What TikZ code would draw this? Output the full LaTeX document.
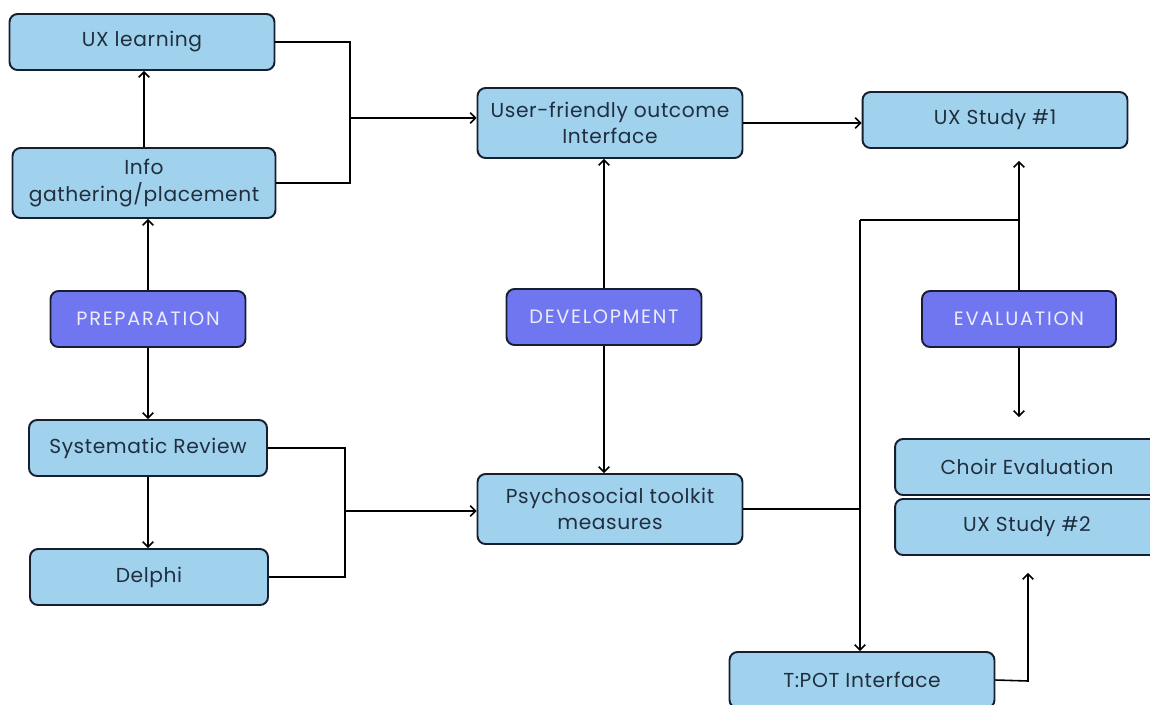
\documentclass[tikz,border=0pt]{standalone}
\usepackage{fontspec}
\setmainfont{Poppins}[LetterSpace=3]
\newfontfamily\phasefont{Poppins}[LetterSpace=9]
\usetikzlibrary{arrows.meta, positioning}
\definecolor{boxblue}{RGB}{160,210,238}
\definecolor{phaseviolet}{RGB}{112,118,240}
\definecolor{edgenavy}{RGB}{22,30,48}
\definecolor{textslate}{RGB}{32,46,62}
\definecolor{phasetext}{RGB}{236,236,252}

\begin{document}
\begin{tikzpicture}[x=0.02cm, y=-0.02cm,
    stage/.style={draw=edgenavy, line width=1.1pt, fill=boxblue, rounded corners=0.16cm,
        text=textslate, font=\fontsize{11.5}{15}\selectfont, align=center,
        minimum width=5.3cm, minimum height=1.12cm, inner sep=2pt},
    tall/.style={minimum height=1.4cm},
    phase/.style={draw=edgenavy, line width=1.1pt, fill=phaseviolet, rounded corners=0.16cm,
        text=phasetext, font=\phasefont\fontsize{11}{13}\selectfont,
        minimum width=3.9cm, minimum height=1.12cm, inner sep=2pt},
    link/.style={draw=black, line width=0.9pt},
    arrow/.style={link, -{Straight Barb[length=3pt,width=6pt]}}]

    \useasboundingbox (0,0) rectangle (1150,704);

    % preparation column
    \node[stage] (uxl) at (142,42) {UX learning};
    \node[stage, tall, minimum width=5.26cm] (info) at (144,183) {Info\\gathering/placement};
    \node[phase] (prep) at (148,319) {PREPARATION};
    \node[stage, minimum width=4.76cm] (sysr) at (148,448) {Systematic Review};
    \node[stage, minimum width=4.76cm] (delphi) at (149,577) {Delphi};

    % development column
    \node[stage, tall] (ufi) at (610,123) {User-friendly outcome\\Interface};
    \node[phase] (dev) at (604,317) {DEVELOPMENT};
    \node[stage, tall] (psy) at (610,509) {Psychosocial toolkit\\measures};

    % evaluation column
    \node[stage] (ux1) at (995,120) {UX Study \#1};
    \node[phase, minimum width=3.88cm] (eval) at (1019,319) {EVALUATION};
    \node[stage, minimum width=5.28cm] (choir) at (1027,467) {Choir Evaluation};
    \node[stage, minimum width=5.28cm] (ux2) at (1027,527) {UX Study \#2};
    \node[stage] (tpot) at (862,680) {T:POT Interface};

    \coordinate (jtop) at (350,118);
    \coordinate (jmid) at (345,511);
    \coordinate (jright) at (860,220);
    \coordinate (jlow) at (1028,681);

    \draw[arrow] (info.north) -- (info.north |- uxl.south);
    \draw[arrow] (prep.north) -- (prep.north |- info.south);
    \draw[arrow] (prep.south) -- (prep.south |- sysr.north);
    \draw[arrow] (sysr.south) -- (sysr.south |- delphi.north);
    \draw[link] (uxl.east) -| (jtop) |- (info.east);
    \draw[arrow] (jtop) -- (ufi.west |- jtop);
    \draw[link] (sysr.east) -| (jmid) |- (delphi.east);
    \draw[arrow] (jmid) -- (psy.west |- jmid);

    \draw[arrow] (dev.north) -- (dev.north |- ufi.south);
    \draw[arrow] (dev.south) -- (dev.south |- psy.north);
    \draw[arrow] (ufi.east) -- (ux1.west |- ufi.east);

    \draw[link] (psy.east) -- (psy.east -| jright);
    \draw[arrow] (jright) -- (jright |- tpot.north);
    \draw[link] (jright) -- (jright -| eval.north);
    \draw[arrow, shorten >=0.24cm] (eval.north) -- (eval.north |- ux1.south);
    \draw[arrow, shorten >=0.42cm] (eval.south) -- (eval.south |- choir.north);
    \draw[arrow, shorten >=0.34cm] (tpot.east) -- (jlow) -- (jlow |- ux2.south);

\end{tikzpicture}
\end{document}
